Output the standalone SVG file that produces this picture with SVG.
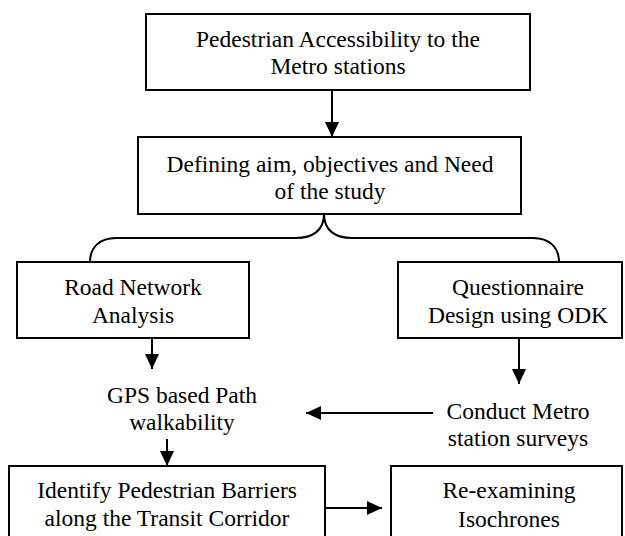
<svg xmlns="http://www.w3.org/2000/svg" width="625" height="536" viewBox="0 0 625 536">
<defs>
<marker id="ah" markerWidth="15" markerHeight="14" refX="15" refY="7" orient="auto" markerUnits="userSpaceOnUse">
<path d="M0,0 L15,7 L0,14 Z" fill="#000"/>
</marker>
<style>
.box{fill:#fff;stroke:#000;stroke-width:2}
.t{font-family:"Liberation Serif","Times New Roman",serif;font-size:23.5px;fill:#000;text-anchor:middle}
.c{stroke:#000;stroke-width:2;fill:none}
</style>
</defs>
<rect width="625" height="536" fill="#fff"/>
<g id="connectors">
<line class="c" x1="332" y1="90" x2="332" y2="137" marker-end="url(#ah)"/>
<path class="c" d="M324,214 C324,231 312,238 296,238 L116,238 C100,238 90,247 90,262"/>
<path class="c" d="M324,214 C324,231 336,238 352,238 L533,238 C549,238 559,247 559,262"/>
<line class="c" x1="152" y1="339" x2="152" y2="369" marker-end="url(#ah)"/>
<line class="c" x1="519" y1="339" x2="519" y2="384" marker-end="url(#ah)"/>
<line class="c" x1="433" y1="413" x2="306" y2="413" marker-end="url(#ah)"/>
<line class="c" x1="167" y1="439" x2="167" y2="466" marker-end="url(#ah)"/>
<line class="c" x1="325" y1="508" x2="382" y2="508" marker-end="url(#ah)"/>
</g>
<g id="n1">
<rect class="box" x="146" y="14" width="384" height="76"/>
<text class="t" x="338" y="47">Pedestrian Accessibility to the</text>
<text class="t" x="338" y="74">Metro stations</text>
</g>
<g id="n2">
<rect class="box" x="138" y="137" width="383" height="77"/>
<text class="t" x="330" y="172">Defining aim, objectives and Need</text>
<text class="t" x="330" y="199">of the study</text>
</g>
<g id="n3">
<rect class="box" x="17" y="262" width="232" height="76"/>
<text class="t" x="133" y="295">Road Network</text>
<text class="t" x="133" y="323">Analysis</text>
</g>
<g id="n4">
<rect class="box" x="398" y="262" width="224" height="76"/>
<text class="t" x="518" y="295">Questionnaire</text>
<text class="t" x="518" y="323">Design using ODK</text>
</g>
<g id="n5">
<text class="t" x="182" y="403">GPS based Path</text>
<text class="t" x="182" y="430">walkability</text>
</g>
<g id="n6">
<text class="t" x="518" y="419">Conduct Metro</text>
<text class="t" x="518" y="446">station surveys</text>
</g>
<g id="n7">
<rect class="box" x="9" y="466" width="316" height="80"/>
<text class="t" x="167" y="498">Identify Pedestrian Barriers</text>
<text class="t" x="167" y="526">along the Transit Corridor</text>
</g>
<g id="n8">
<rect class="box" x="391" y="466" width="231" height="80"/>
<text class="t" x="509" y="498">Re-examining</text>
<text class="t" x="509" y="527">Isochrones</text>
</g>
</svg>
